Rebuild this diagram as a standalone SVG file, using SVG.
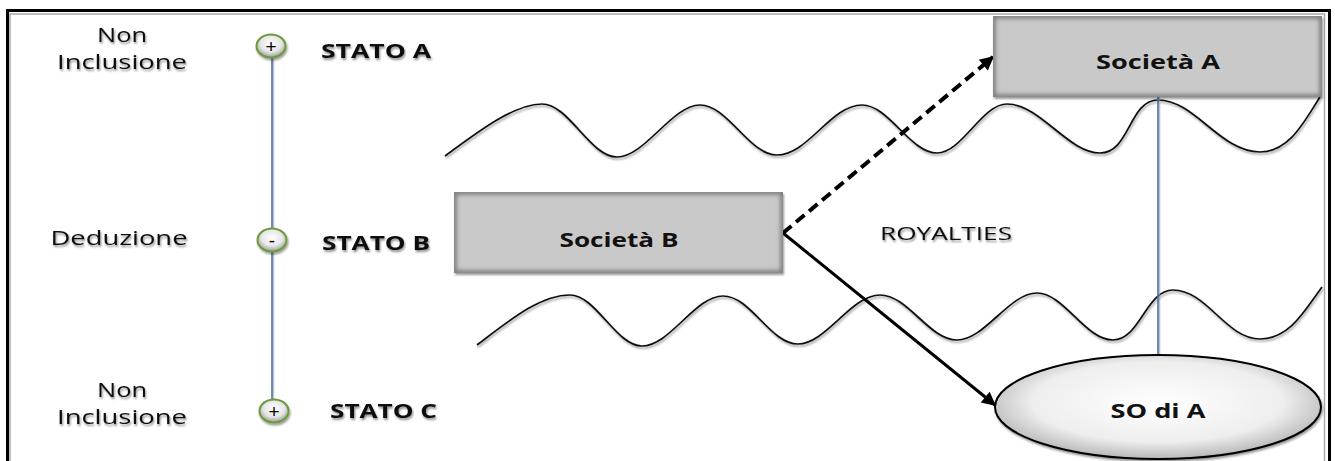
<svg xmlns="http://www.w3.org/2000/svg" width="1335" height="461" viewBox="0 0 1335 461">
<style>
.lbl{font-family:"Open Sans","Liberation Sans",sans-serif;font-size:20px;fill:#111;text-anchor:middle}
.st{font-family:"Open Sans","Liberation Sans",sans-serif;font-size:20px;font-weight:bold;fill:#111}
.nodet{font-family:"Open Sans","Liberation Sans",sans-serif;font-size:20px;font-weight:bold;fill:#111;text-anchor:middle}
.wave{fill:none;stroke:#111;stroke-width:1.7}
.vline{stroke:#4a6fb5;stroke-width:1.6}
.vsh{stroke:#999;stroke-width:1.6;opacity:0.6}
.pm{font-family:"Liberation Sans","Open Sans",sans-serif;font-size:19px;fill:#000;text-anchor:middle}
.circ{fill:url(#cg);stroke:#6c9a3c;stroke-width:2}
</style>
<defs>
<filter id="ts" x="-10%" y="-30%" width="120%" height="160%">
<feGaussianBlur in="SourceAlpha" stdDeviation="1.2"/>
<feOffset dx="1" dy="1.5" result="o"/>
<feComponentTransfer><feFuncA type="linear" slope="0.45"/></feComponentTransfer>
<feMerge><feMergeNode/><feMergeNode in="SourceGraphic"/></feMerge>
</filter>
<filter id="ls" x="-20%" y="-20%" width="140%" height="140%">
<feGaussianBlur in="SourceAlpha" stdDeviation="1"/>
<feOffset dx="1" dy="1.5"/>
<feComponentTransfer><feFuncA type="linear" slope="0.4"/></feComponentTransfer>
<feMerge><feMergeNode/><feMergeNode in="SourceGraphic"/></feMerge>
</filter>
<filter id="blur2"><feGaussianBlur stdDeviation="2"/></filter>
<radialGradient id="cg" cx="50%" cy="40%" r="60%">
<stop offset="0" stop-color="#ffffff"/><stop offset="0.6" stop-color="#e6e6e6"/><stop offset="1" stop-color="#9a9a9a"/>
</radialGradient>
<radialGradient id="eg" cx="50%" cy="45%" r="55%">
<stop offset="0" stop-color="#ffffff"/><stop offset="0.7" stop-color="#eeeeee"/><stop offset="1" stop-color="#b8b8b8"/>
</radialGradient>
<clipPath id="cb"><rect x="454" y="192" width="329" height="81"/></clipPath>
<clipPath id="ca"><rect x="993" y="16" width="329" height="81"/></clipPath>
<marker id="ah2" viewBox="0 0 10 10" refX="9" refY="5" markerWidth="16" markerHeight="14" orient="auto" markerUnits="userSpaceOnUse">
<path d="M0,0 L10,5 L0,10 Z" fill="#000"/>
</marker>
</defs>
<rect width="1335" height="461" fill="#fff"/>
<!-- frame -->
<path d="M7.5,461 V10.5 H1329.5 V461" fill="none" stroke="#000" stroke-width="3"/>
<path d="M10,461 V14 H1324.5 V461" fill="none" stroke="#aaa" stroke-width="1.5"/>

<!-- waves -->
<g id="waves">
<path class="wave" filter="url(#ls)" d="M445,156 C480,130 515,104 542,104 C569,104 590,157 617,157 C645,157 672,105 700,105 C728,105 749,155 777,155 C808,155 831,105 862,105 C889,105 910,153 937,153 C962,153 982,104 1007,104 C1040,104 1068,153 1100,153 C1130,153 1129,100 1158,100 C1195,100 1220,152 1260,152 C1290,152 1305,120 1320,97"/>
<path class="wave" filter="url(#ls)" d="M477,345 C510,320 540,295 570,295 C596,295 616,346 642,346 C670,346 695,296 723,296 C751,296 770,344 798,344 C826,344 851,295 880,295 C908,295 929,340 957,340 C985,340 1009,293 1037,293 C1064,293 1085,340 1113,340 C1140,340 1146,290 1173,290 C1207,290 1226,339 1260,339 C1290,339 1305,310 1322,287"/>
</g>

<!-- left axis -->
<g id="axis">
<line class="vsh" x1="273.5" y1="56" x2="273.5" y2="400"/>
<line class="vline" x1="272" y1="56" x2="272" y2="400"/>
</g>

<g id="stato-a">
<ellipse class="circ" cx="271" cy="46" rx="14.5" ry="11.5" filter="url(#ls)"/>
<text class="pm" x="271" y="53">+</text>
<text class="st" x="321" y="58" textLength="110" lengthAdjust="spacingAndGlyphs" filter="url(#ts)">STATO A</text>
<text class="lbl" x="122" y="42" textLength="50" lengthAdjust="spacingAndGlyphs" filter="url(#ts)">Non</text>
<text class="lbl" x="122" y="69" textLength="130" lengthAdjust="spacingAndGlyphs" filter="url(#ts)">Inclusione</text>
</g>

<g id="stato-b">
<ellipse class="circ" cx="272" cy="240" rx="14.5" ry="11.5" filter="url(#ls)"/>
<text class="pm" x="272" y="247">-</text>
<text class="st" x="322" y="250" textLength="108" lengthAdjust="spacingAndGlyphs" filter="url(#ts)">STATO B</text>
<text class="lbl" x="119" y="245" textLength="137" lengthAdjust="spacingAndGlyphs" filter="url(#ts)">Deduzione</text>
</g>

<g id="stato-c">
<ellipse class="circ" cx="274" cy="411" rx="14.5" ry="11.5" filter="url(#ls)"/>
<text class="pm" x="274" y="418">+</text>
<text class="st" x="330" y="418" textLength="107" lengthAdjust="spacingAndGlyphs" filter="url(#ts)">STATO C</text>
<text class="lbl" x="122" y="397" textLength="50" lengthAdjust="spacingAndGlyphs" filter="url(#ts)">Non</text>
<text class="lbl" x="122" y="424" textLength="130" lengthAdjust="spacingAndGlyphs" filter="url(#ts)">Inclusione</text>
</g>

<!-- connectors -->
<g id="connectors">
<line class="vsh" x1="1159.5" y1="97" x2="1159.5" y2="355"/>
<line class="vline" x1="1158" y1="97" x2="1158" y2="355"/>
<line x1="783" y1="233" x2="993" y2="57" stroke="#000" stroke-width="4" stroke-dasharray="11,6" marker-end="url(#ah2)"/>
<line x1="783" y1="233" x2="995" y2="405" stroke="#000" stroke-width="3" marker-end="url(#ah2)"/>
</g>

<g id="societa-b">
<rect x="454" y="192" width="329" height="81" fill="#c9c9c9" filter="url(#ls)"/>
<g clip-path="url(#cb)"><rect x="454" y="192" width="329" height="81" fill="none" stroke="#777" stroke-width="5" filter="url(#blur2)"/></g>
<text class="nodet" x="619" y="247" textLength="119" lengthAdjust="spacingAndGlyphs">Società B</text>
</g>

<g id="societa-a">
<rect x="993" y="16" width="329" height="81" fill="#c9c9c9" filter="url(#ls)"/>
<g clip-path="url(#ca)"><rect x="993" y="16" width="329" height="81" fill="none" stroke="#777" stroke-width="5" filter="url(#blur2)"/></g>
<text class="nodet" x="1158" y="69" textLength="124" lengthAdjust="spacingAndGlyphs">Società A</text>
</g>

<g id="so-di-a">
<ellipse cx="1158" cy="407" rx="163" ry="52" fill="url(#eg)" stroke="#000" stroke-width="2" filter="url(#ls)"/>
<text class="nodet" x="1158" y="418" textLength="95" lengthAdjust="spacingAndGlyphs">SO di A</text>
</g>

<g id="royalties">
<text class="lbl" x="946" y="240" textLength="132" lengthAdjust="spacingAndGlyphs" filter="url(#ts)" style="font-size:18px">ROYALTIES</text>
</g>
</svg>
